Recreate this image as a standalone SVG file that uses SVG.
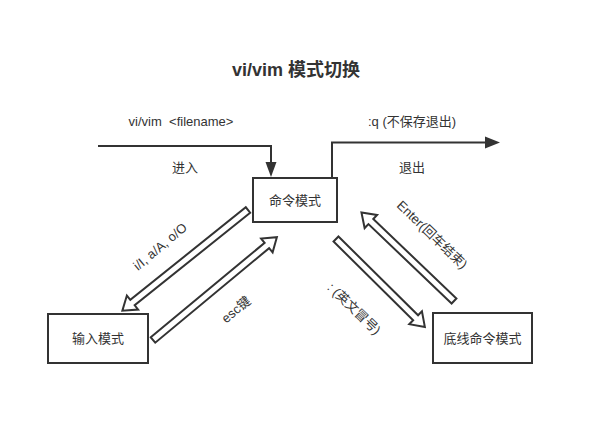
<svg xmlns="http://www.w3.org/2000/svg" width="595" height="437" viewBox="0 0 595 437">
<style>
text{font-family:"Liberation Sans","Noto Sans CJK SC",sans-serif;fill:#333;}
.t{font-size:13px;}
.title{font-size:18px;font-weight:bold;}
.box{fill:#fff;stroke:#333;stroke-width:2;}
.ln{fill:none;stroke:#333;stroke-width:2;}
.ah{fill:#333;}
.ba{fill:#fff;stroke:#333;stroke-width:2;stroke-linejoin:miter;}
</style>
<rect width="595" height="437" fill="#fff"/>
<text class="title" x="296" y="76" text-anchor="middle">vi/vim 模式切换</text>
<g id="connectors">
<path class="ln" d="M98,146 H271 V164"/>
<polygon class="ah" points="265.5,162 276.5,162 271,177"/>
<path class="ln" d="M332,178 V142.5 H487"/>
<polygon class="ah" points="485,136.5 500,142.5 485,148.5"/>
<path class="ba" transform="translate(248,210) rotate(141.3)" d="M0,-3.5 L148,-3.5 L148,-9 L161,0 L148,9 L148,3.5 L0,3.5 Z"/>
<path class="ba" transform="translate(153,340) rotate(-39.7)" d="M0,-3.5 L148,-3.5 L148,-9 L161,0 L148,9 L148,3.5 L0,3.5 Z"/>
<path class="ba" transform="translate(336,239) rotate(44.7)" d="M0,-3.5 L112,-3.5 L112,-9 L125,0 L112,9 L112,3.5 L0,3.5 Z"/>
<path class="ba" transform="translate(454,301) rotate(-136.3)" d="M0,-3.5 L115,-3.5 L115,-9 L128,0 L115,9 L115,3.5 L0,3.5 Z"/>
</g>
<text class="t" x="181" y="126" text-anchor="middle" xml:space="preserve">vi/vim  &lt;filename&gt;</text>
<text class="t" x="185" y="172" text-anchor="middle">进入</text>
<text class="t" x="412" y="126" text-anchor="middle">:q (不保存退出)</text>
<text class="t" x="412" y="172" text-anchor="middle">退出</text>
<text class="t" transform="translate(163,250) rotate(-40)" text-anchor="middle">i/I, a/A, o/O</text>
<text class="t" transform="translate(239,313) rotate(-40)" text-anchor="middle">esc键</text>
<text class="t" transform="translate(429,238) rotate(44)" text-anchor="middle">Enter(回车结束)</text>
<text class="t" transform="translate(351,312) rotate(44)" text-anchor="middle">: (英文冒号)</text>
<g id="cmd">
<rect class="box" x="253" y="178" width="84" height="44"/>
<text class="t" x="295" y="204.5" text-anchor="middle">命令模式</text>
</g>
<g id="insert">
<rect class="box" x="48" y="314" width="100" height="49"/>
<text class="t" x="98" y="343" text-anchor="middle">输入模式</text>
</g>
<g id="lastline">
<rect class="box" x="433" y="313" width="99" height="50"/>
<text class="t" x="482.5" y="343" text-anchor="middle">底线命令模式</text>
</g>
</svg>
